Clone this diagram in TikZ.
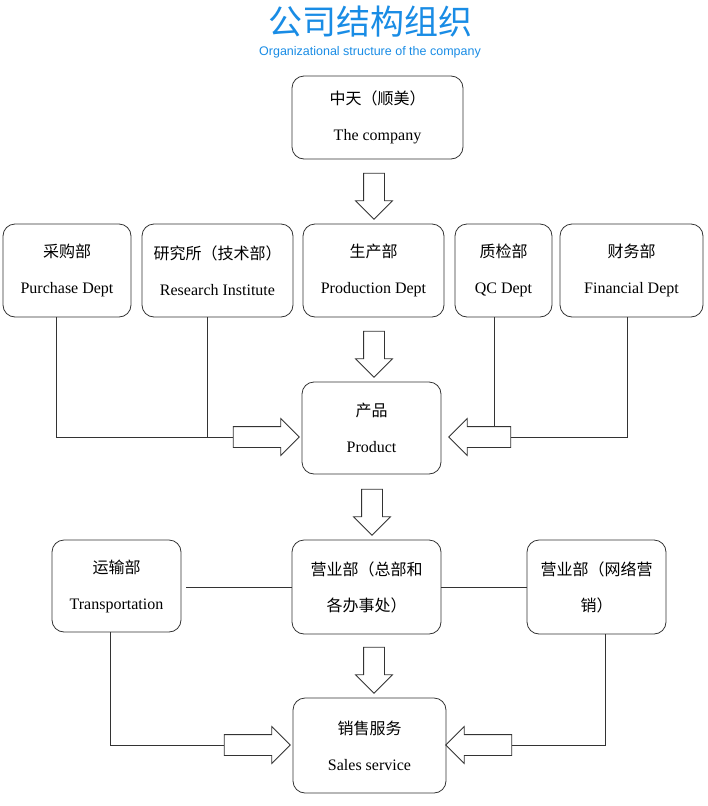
\documentclass[tikz,border=0pt]{standalone}
\usepackage{fontspec}
\setmainfont{Liberation Serif}
\newfontfamily\cjk{Noto Sans CJK SC}
\newfontfamily\sans{Liberation Sans}
\usetikzlibrary{positioning,shapes.arrows}
\definecolor{titleblue}{rgb}{0.10, 0.55, 0.90}
\tikzset{
  dept/.style={draw, rounded corners=12pt, line width=0.8pt, draw=black!80, font=\fontsize{16}{36}\selectfont, align=center},
  barrow/.style={draw, single arrow, single arrow head extend=8pt, line width=0.8pt, draw=black!80, inner xsep=0pt, inner ysep=10pt},
  link/.style={line width=0.8pt, draw=black!80}
}
\begin{document}
\begin{tikzpicture}[x=1pt, y=-1pt]
  \useasboundingbox (0,0) rectangle (707,806);
  \node[font=\cjk\fontsize{34}{34}\selectfont, text=titleblue] (title) at (370,22) {公司结构组织};
  \node[font=\sans\fontsize{12.5}{12.5}\selectfont, text=titleblue] (sub) at (370,52) {Organizational structure of the company};

  \node[dept, minimum width=171pt, minimum height=83pt] (co) at (377.5,117.5) {{\cjk 中天（顺美）}\\The company};

  \node[dept, minimum width=128pt, minimum height=93pt] (pur) at (67,270.5) {{\cjk 采购部}\\Purchase Dept};
  \node[dept, minimum width=151pt, minimum height=93pt] (res) at (217.5,270.5) {{\cjk 研究所（技术部）}\\Research Institute};
  \node[dept, minimum width=141pt, minimum height=93pt] (pro) at (373.5,270.5) {{\cjk 生产部}\\Production Dept};
  \node[dept, minimum width=97pt, minimum height=93pt] (qc) at (503.5,270.5) {{\cjk 质检部}\\QC Dept};
  \node[dept, minimum width=143pt, minimum height=93pt] (fin) at (631.5,270.5) {{\cjk 财务部}\\Financial Dept};

  \node[dept, minimum width=139pt, minimum height=92pt] (prd) at (371.5,428) {{\cjk 产品}\\Product};

  \node[dept, minimum width=129pt, minimum height=92pt] (tra) at (116.5,586) {{\cjk 运输部}\\Transportation};
  \node[dept, minimum width=149pt, minimum height=94pt] (sal) at (366.5,587) {\cjk 营业部（总部和\\\cjk 各办事处）};
  \node[dept, minimum width=139pt, minimum height=94pt] (net) at (596.5,587) {\cjk 营业部（网络营\\\cjk 销）};

  \node[dept, minimum width=153pt, minimum height=95pt] (svc) at (369.5,745.5) {{\cjk 销售服务}\\Sales service};

  % block arrows down the middle
  \node[barrow, rotate=-90, minimum height=46pt] (a1) at (374,191) {};
  \node[barrow, rotate=-90, minimum height=46pt] (a2) at (374,349) {};
  \node[barrow, rotate=-90, minimum height=46pt] (a3) at (372,507) {};
  \node[barrow, rotate=-90, minimum height=46pt] (a4) at (374,665) {};

  % block arrows from the sides
  \node[barrow, minimum height=66pt] (l1) at (261,437) {};
  \node[barrow, shape border rotate=180, minimum height=62pt] (r1) at (485,437) {};
  \node[barrow, minimum height=66pt] (l2) at (252,745) {};
  \node[barrow, shape border rotate=180, minimum height=66pt] (r2) at (484,745) {};

  \coordinate (j1) at (207,437);
  \draw[link] (pur.south -| 56,0) |- (l1.west);
  \draw[link] (res.south -| j1) -- (j1);
  \draw[link] (qc.south -| 494,0) -- (r1.north -| 494,0);
  \draw[link] (fin.south -| 627,0) |- (r1.east);

  \draw[link] (tra.south -| 110,0) |- (l2.west);
  \draw[link] (net.south -| 605,0) |- (r2.east);

  \draw[link] (186,587) -- (sal.west);
  \draw[link] (sal.east) -- (net.west);
\end{tikzpicture}
\end{document}
